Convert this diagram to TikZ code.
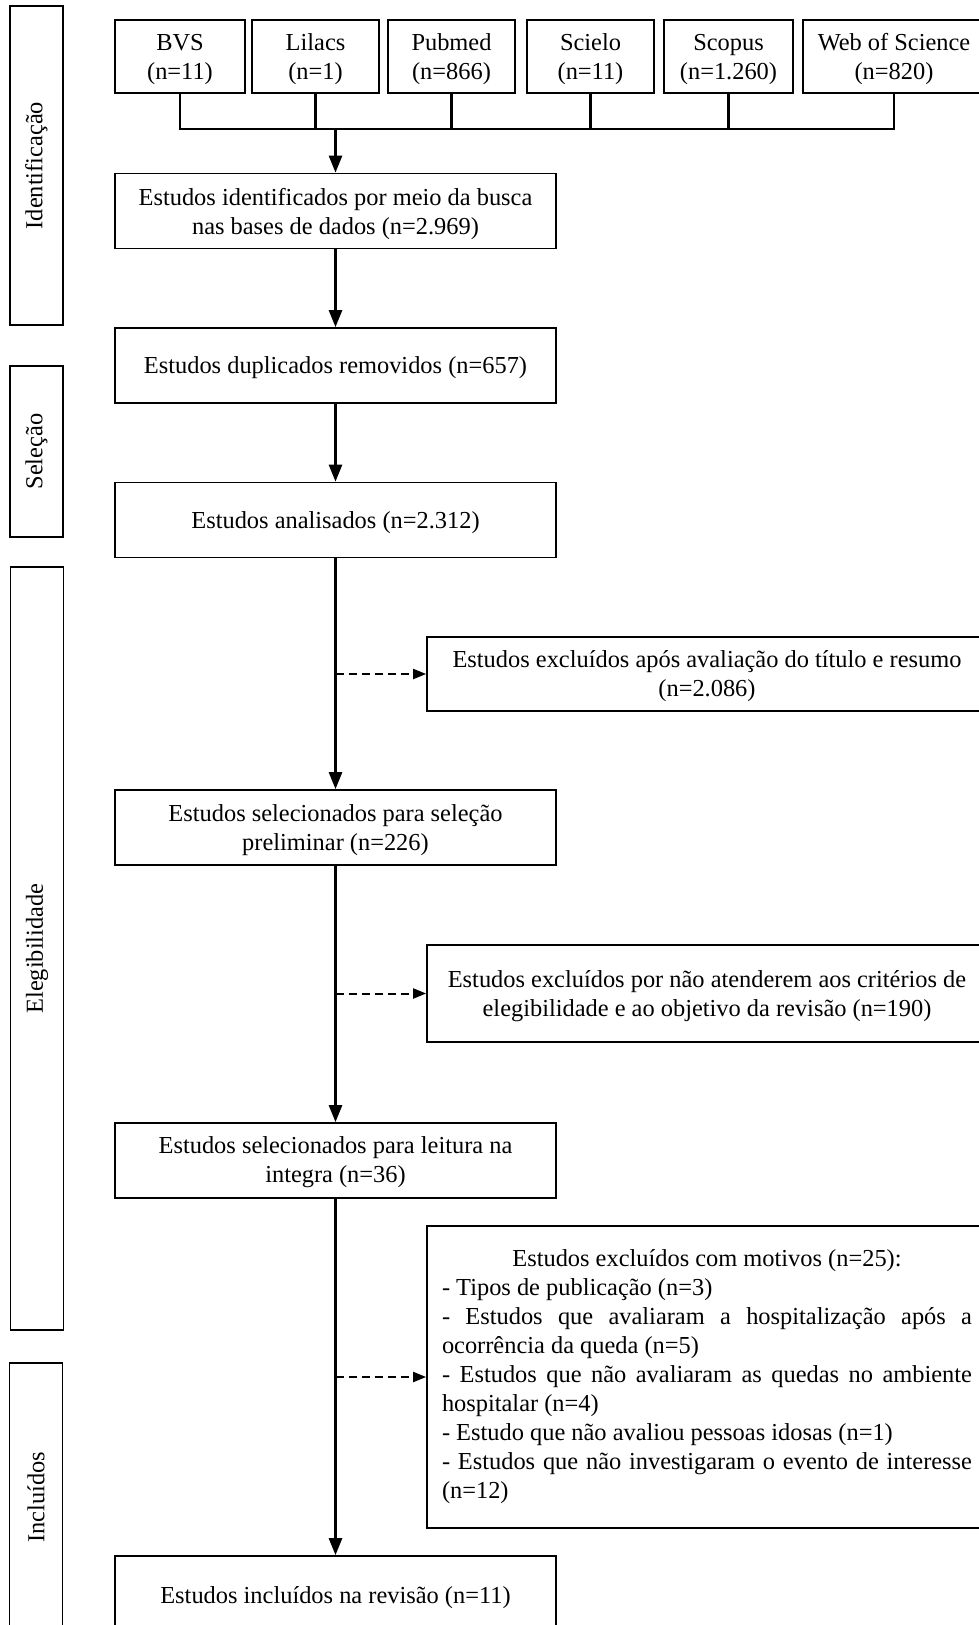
\documentclass[tikz,border=0pt]{standalone}
\usepackage{fontspec}
\setmainfont{Liberation Serif}
\usetikzlibrary{arrows.meta}

\begin{document}
\begin{tikzpicture}[x=1pt, y=-1pt,
		box/.style={draw, line width=1.7pt, align=center, inner sep=0pt, font=\fontsize{24.4}{29}\selectfont},
		mainbox/.style={box, minimum width=441pt, minimum height=75pt, text depth=-5pt},
		srcbox/.style={box, minimum height=73pt, text depth=-5pt},
		exclbox/.style={box, minimum width=560pt},
		sidebox/.style={box, rotate=90, minimum height=53pt},
		link/.style={line width=2.6pt},
		flow/.style={link, -{Triangle[length=17pt, width=13pt]}},
		exclarrow/.style={line width=2pt, dash pattern=on 8pt off 5pt, -{Triangle[length=13pt, width=10pt]}}]
	\useasboundingbox (0,0) rectangle (979,1625);
	\clip (0,0) rectangle (979,1625);

	% phases
	\node[sidebox, minimum width=319pt] (sident) at (36.5,165.5) {Identificação};
	\node[sidebox, minimum width=171pt] (ssel) at (36.5,451.5) {Seleção};
	\node[sidebox, minimum width=763pt] (seleg) at (37,948.5) {Elegibilidade};
	\node[sidebox, minimum width=269pt] (sincl) at (36,1497.5) {Incluídos};

	% databases
	\foreach \nm/\x/\w/\txt in {bvs/180/130/{BVS\\(n=11)}, lil/315.5/127/{Lilacs\\(n=1)},
			pub/451.5/127/{Pubmed\\(n=866)}, sci/590.5/127/{Scielo\\(n=11)},
			sco/728.5/129/{Scopus\\(n=1.260)}, wos/894/182/{Web of Science\\(n=820)}}
		\node[srcbox, minimum width=\w pt] (\nm) at (\x,56.5) {\txt};

	\coordinate (join) at (335.5,129);
	\draw[link] (bvs.south) -- (bvs.south |- join) -- (wos.south |- join) -- (wos.south);
	\foreach \nm in {lil,pub,sci,sco} \draw[link] (\nm.south) -- (\nm.south |- join);

	% main flow
	\node[mainbox] (ident) at (335.5,211) {Estudos identificados por meio da busca\\nas bases de dados (n=2.969)};
	\node[mainbox] (dup) at (335.5,365.5) {Estudos duplicados removidos (n=657)};
	\node[mainbox] (ana) at (335.5,520) {Estudos analisados (n=2.312)};
	\node[mainbox] (presel) at (335.5,827.5) {Estudos selecionados para seleção\\preliminar (n=226)};
	\node[mainbox, text depth=1pt] (leit) at (335.5,1160.5) {Estudos selecionados para leitura na\\integra (n=36)};
	\node[mainbox, minimum height=78pt] (incl) at (335.5,1595) {Estudos incluídos na revisão (n=11)};

	\draw[flow] (join) -- (ident.north);
	\foreach \a/\b in {ident/dup, dup/ana, ana/presel, presel/leit, leit/incl}
		\draw[flow] (\a) -- (\b);

	% exclusions
	\node[exclbox, minimum height=74pt, text depth=-12pt] (excl1) at (707,674) {Estudos excluídos após avaliação do título e resumo\\(n=2.086)};
	\node[exclbox, minimum height=97pt, text depth=-1pt] (excl2) at (707,993.5) {Estudos excluídos por não atenderem aos critérios de\\elegibilidade e ao objetivo da revisão (n=190)};
	\node[exclbox, minimum height=302pt, text width=530pt, align=justify] (excl3) at (707,1377) {%
		\tolerance=10000 \hyphenpenalty=10000
		\makebox[\linewidth]{Estudos excluídos com motivos (n=25):}\par
		- Tipos de publicação (n=3)\par
		- Estudos que avaliaram a hospitalização após a\linebreak ocorrência da queda (n=5)\par
		- Estudos que não avaliaram as quedas no ambiente\linebreak hospitalar (n=4)\par
		- Estudo que não avaliou pessoas idosas (n=1)\par
		- Estudos que não investigaram o evento de interesse\linebreak (n=12)};

	\foreach \e/\m in {excl1/ana, excl2/presel, excl3/leit}
		\draw[exclarrow] (\m.south |- \e.west) -- (\e.west);
\end{tikzpicture}
\end{document}
